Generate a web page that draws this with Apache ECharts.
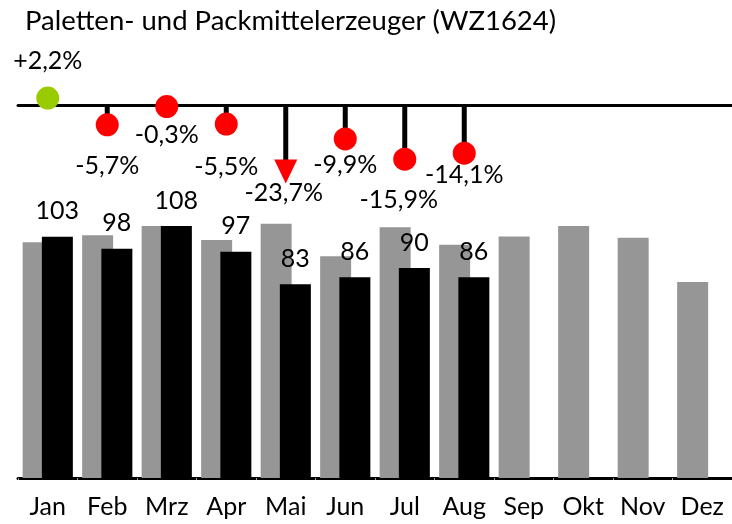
<!DOCTYPE html>
<html>
<head>
<meta charset="utf-8">
<script src="https://cdn.jsdelivr.net/npm/echarts@6/dist/echarts.min.js"></script>
<style>
html,body{margin:0;padding:0;background:#fff;}
#c{width:732px;height:524px;}
</style>
</head>
<body>
<div id="c"></div>
<script>
// ---- data ----
var titleText = 'Paletten- und Packmittelerzeuger (WZ1624)';
var months = ['Jan','Feb','Mrz','Apr','Mai','Jun','Jul','Aug','Sep','Okt','Nov','Dez'];
var prevYear = [101, 104, 108, 102, 109, 95, 107.5, 100, 103.5, 108, 103, 84];
var currYear = [103.4, 98.3, 108, 97, 83, 86, 90, 86, null, null, null, null];
var changePct = [2.2, -5.7, -0.3, -5.5, -23.7, -9.9, -15.9, -14.1, null, null, null, null];

// ---- style / layout ----
var FONT = 'Lato';
var clipLimit = -19.5;           // values below are drawn as a downward triangle
var pctLabelOffset = [[0,-37],[0,41],[0,28],[0,43],[-2,22],[0,26],[-6,41],[0,22]];

function fmtPct(v){
  var s = Math.abs(v).toFixed(1).replace('.', ',');
  return (v > 0 ? '+' : '-') + s + '%';
}

var stemData = changePct.map(function(v){
  if (v === null) return null;
  return Math.max(v, clipLimit);
});

var dotData = changePct.map(function(v, i){
  if (v === null) return null;
  var clipped = v < clipLimit;
  return {
    value: [i, clipped ? clipLimit : v],
    symbol: clipped ? 'triangle' : 'circle',
    symbolRotate: clipped ? 180 : 0,
    symbolSize: clipped ? [23, 24] : 23,
    itemStyle: { color: v > 0 ? '#99CC00' : '#FF0000', opacity: 1 },
    label: {
      show: true,
      position: 'inside',
      offset: pctLabelOffset[i],
      formatter: fmtPct(v),
      color: '#000',
      opacity: 1,
      fontFamily: FONT,
      fontSize: 25
    }
  };
}).filter(function(d){ return d !== null; });

var chart = echarts.init(document.getElementById('c'), null, {renderer: 'canvas'});
chart.setOption({
  animation: false,
  title: {
    text: titleText,
    left: 25, top: 7, padding: 0,
    textStyle: { fontFamily: FONT, fontSize: 27.5, fontWeight: 'normal', color: '#000' }
  },
  grid: [
    { left: 18, width: 718, top: 71.7, height: 135.2 },
    { left: 18, width: 718, top: 128, height: 350 }
  ],
  xAxis: [
    { type: 'category', gridIndex: 0, data: months,
      axisLine: { onZero: true, lineStyle: { color: '#000', width: 3 } },
      axisTick: { show: false }, axisLabel: { show: false } },
    { type: 'category', gridIndex: 1, data: months,
      axisLine: { lineStyle: { color: '#000', width: 3 } },
      axisTick: { show: true, length: 2, lineStyle: { color: '#999', width: 1 } },
      axisLabel: { margin: 16, fontFamily: FONT, fontSize: 25, color: '#000' } }
  ],
  yAxis: [
    { type: 'value', gridIndex: 0, min: -30, max: 10, show: false },
    { type: 'value', gridIndex: 1, min: 0, max: 150, show: false }
  ],
  series: [
    { type: 'bar', xAxisIndex: 1, yAxisIndex: 1, data: prevYear,
      barWidth: 31, barGap: '-38%', itemStyle: { color: '#969696' }, z: 2 },
    { type: 'bar', xAxisIndex: 1, yAxisIndex: 1, data: currYear,
      barWidth: 31, itemStyle: { color: '#000' }, z: 3,
      label: { show: true, position: 'top', distance: 13,
        formatter: function(p){ return Math.round(p.value); },
        fontFamily: FONT, fontSize: 25, color: '#000' } },
    { type: 'bar', xAxisIndex: 0, yAxisIndex: 0, data: stemData,
      barWidth: 5, itemStyle: { color: '#000' }, z: 2 },
    { type: 'scatter', xAxisIndex: 0, yAxisIndex: 0, data: dotData, z: 5 }
  ]
});
</script>
</body>
</html>
